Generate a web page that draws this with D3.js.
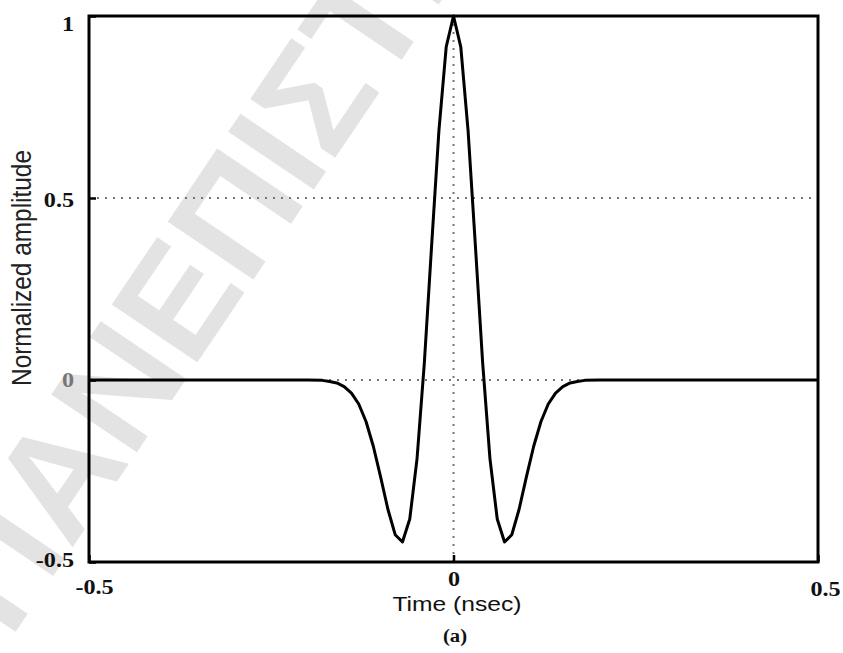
<!DOCTYPE html>
<html>
<head>
<meta charset="utf-8">
<script src="https://cdn.jsdelivr.net/npm/d3@7"></script>
<style>
  html, body { margin: 0; padding: 0; background: #fff; }
  svg { display: block; }
</style>
</head>
<body>
<svg id="chart" width="843" height="653"></svg>
<script>
// ---- data ----
const timeNs = [-0.5, -0.2, -0.18, -0.17, -0.16, -0.15, -0.14, -0.13, -0.12, -0.11, -0.10,
  -0.09, -0.08, -0.07, -0.06, -0.05, -0.04, -0.03, -0.02, -0.01, 0,
  0.01, 0.02, 0.03, 0.04, 0.05, 0.06, 0.07, 0.08, 0.09, 0.10,
  0.11, 0.12, 0.13, 0.14, 0.15, 0.16, 0.17, 0.18, 0.2, 0.5];
const amplitude = [0, 0, -0.001, -0.004, -0.008, -0.018, -0.036, -0.066, -0.114, -0.182, -0.266,
  -0.355, -0.425, -0.445, -0.382, -0.216, 0.047, 0.37, 0.685, 0.915, 1,
  0.915, 0.685, 0.37, 0.047, -0.216, -0.382, -0.445, -0.425, -0.355, -0.266,
  -0.182, -0.114, -0.066, -0.036, -0.018, -0.008, -0.004, -0.001, 0, 0];
const xTicks = [-0.5, 0, 0.5];
const yTicks = [-0.5, 0, 0.5, 1];
const xTickLabels = ["-0.5", "0", "0.5"];
const yTickLabels = ["-0.5", "0", "0.5", "1"];
const xGrid = [0];
const yGrid = [0, 0.5];
const xTitle = "Time (nsec)";
const yTitle = "Normalized  amplitude";
const caption = "(a)";
const watermark = "ΠΑΝΕΠΙΣΤΗΜΙΟ";

// ---- layout ----
const svg = d3.select("#chart");
const L = 89, R = 818, T = 16, B = 562;
const x = d3.scaleLinear().domain([-0.5, 0.5]).range([L, R]);
const y = d3.scaleLinear().domain([-0.5, 1]).range([B, T]);
const stretch = 1.15;
function widen(sel) {
  sel.each(function () {
    const w = this.getComputedTextLength();
    d3.select(this).attr("textLength", w * stretch).attr("lengthAdjust", "spacingAndGlyphs");
  });
}

// watermark (behind)
svg.append("text")
  .attr("transform", "translate(10,640) rotate(-56)")
  .attr("font-family", "Liberation Sans, Arial, sans-serif")
  .attr("font-weight", "bold")
  .attr("font-size", 150)
  .attr("fill", "#e3e3e3")
  .text(watermark);

// gridlines
svg.append("g").selectAll("line").data(yGrid).join("line")
  .attr("x1", L).attr("x2", R)
  .attr("y1", d => y(d)).attr("y2", d => y(d))
  .attr("stroke", "#777").attr("stroke-width", 2)
  .attr("stroke-dasharray", "2,6");
svg.append("g").selectAll("line").data(xGrid).join("line")
  .attr("x1", d => x(d)).attr("x2", d => x(d))
  .attr("y1", T).attr("y2", B)
  .attr("stroke", "#777").attr("stroke-width", 2)
  .attr("stroke-dasharray", "2,6");

// axes
const tickFont = "Liberation Serif, Times New Roman, serif";
const xAxis = svg.append("g").attr("transform", `translate(0,${B})`)
  .call(d3.axisBottom(x).tickValues(xTicks).tickSize(-7).tickPadding(14)
    .tickFormat((d, i) => xTickLabels[i]));
const yAxis = svg.append("g").attr("transform", `translate(${L},0)`)
  .call(d3.axisLeft(y).tickValues(yTicks).tickSize(-7).tickPadding(15)
    .tickFormat((d, i) => yTickLabels[i]));
[xAxis, yAxis].forEach(g => {
  g.select(".domain").remove();
  g.selectAll(".tick line").attr("stroke", "#000").attr("stroke-width", 2.5);
  g.selectAll(".tick text")
    .style("font-family", tickFont).style("font-weight", "bold")
    .style("font-size", "21px").attr("fill", "#111");
});
xAxis.selectAll(".tick text")
  .attr("dy", "0.71em")
  .attr("dx", d => d === 0.5 ? 7 : (d === -0.5 ? 5 : 0))
  .attr("y", d => d === 0 ? 9 : (d === 0.5 ? 19 : 17));
yAxis.selectAll(".tick text")
  .attr("dy", "0.32em")
  .attr("y", d => d === 1 ? 8 : (d === 0.5 ? 2 : (d === -0.5 ? -2 : 0)))
  .attr("fill", d => d === 0 ? "#777" : "#111");
widen(xAxis.selectAll(".tick text"));
widen(yAxis.selectAll(".tick text"));

// curve
const pts = timeNs.map((t, i) => [t, amplitude[i]]);
svg.append("path")
  .datum(pts)
  .attr("fill", "none")
  .attr("stroke", "#000")
  .attr("stroke-width", 3)
  .attr("stroke-linejoin", "round")
  .attr("d", d3.line().x(d => x(d[0])).y(d => y(d[1])).curve(d3.curveLinear));

// frame
svg.append("rect")
  .attr("x", L).attr("y", T).attr("width", R - L).attr("height", B - T)
  .attr("fill", "none").attr("stroke", "#000").attr("stroke-width", 3);

// titles
svg.append("text")
  .attr("x", 457).attr("y", 611)
  .attr("text-anchor", "middle")
  .attr("font-family", "Liberation Sans, Arial, sans-serif")
  .attr("font-size", 21)
  .attr("textLength", 129).attr("lengthAdjust", "spacingAndGlyphs")
  .attr("fill", "#111")
  .text(xTitle);
svg.append("text")
  .attr("transform", "translate(31,268) scale(1.25,1) rotate(-90)")
  .attr("text-anchor", "middle")
  .attr("font-family", "Liberation Sans, Arial, sans-serif")
  .attr("font-size", 22)
  .attr("textLength", 236).attr("lengthAdjust", "spacingAndGlyphs")
  .attr("fill", "#222")
  .text(yTitle);
const cap = svg.append("text")
  .attr("x", 455).attr("y", 642)
  .attr("text-anchor", "middle")
  .attr("font-family", tickFont)
  .attr("font-weight", "bold")
  .attr("font-size", 18)
  .attr("fill", "#111")
  .text(caption);
widen(cap);
</script>
</body>
</html>
